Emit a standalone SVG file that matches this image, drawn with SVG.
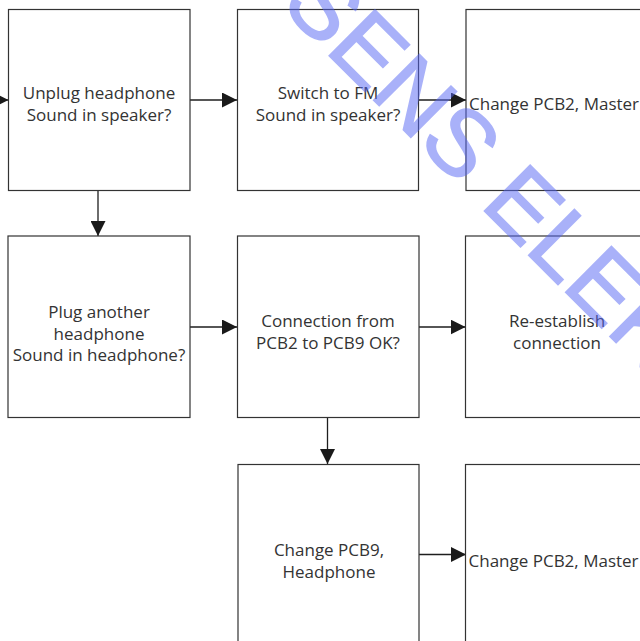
<svg xmlns="http://www.w3.org/2000/svg" width="640" height="641" viewBox="0 0 640 641">
<style>
.box{fill:none;stroke:#333;stroke-width:1.2}
.t{font-family:"Open Sans","Noto Sans",sans-serif;font-size:17px;fill:#333;text-anchor:middle}
.ts{font-family:"Open Sans","Noto Sans",sans-serif;font-size:17px;fill:#333;text-anchor:start}
.ln{stroke:#1e1e1e;stroke-width:1.3;fill:none}
.wm{font-family:"Liberation Sans",Arial,sans-serif;font-size:94px;fill:#5566f5;stroke:#5566f5;stroke-width:1.6}
</style>
<defs>
<marker id="ah" viewBox="0 0 15 15" refX="15" refY="7.5" markerWidth="15" markerHeight="15" markerUnits="userSpaceOnUse" orient="auto">
<path d="M0,0 L15,7.5 L0,15 Z" fill="#1a1a1a"/>
</marker>
</defs>
<rect width="640" height="641" fill="#fff"/>
<g id="connectors">
<line class="ln" x1="-10" y1="100" x2="8.5" y2="100" marker-end="url(#ah)"/>
<line class="ln" x1="190" y1="100" x2="237" y2="100" marker-end="url(#ah)"/>
<line class="ln" x1="418.5" y1="100" x2="466" y2="100" marker-end="url(#ah)"/>
<line class="ln" x1="98" y1="190.5" x2="98" y2="236" marker-end="url(#ah)"/>
<line class="ln" x1="190" y1="327" x2="237" y2="327" marker-end="url(#ah)"/>
<line class="ln" x1="419" y1="327" x2="465.5" y2="327" marker-end="url(#ah)"/>
<line class="ln" x1="327.5" y1="417.5" x2="327.5" y2="464" marker-end="url(#ah)"/>
<line class="ln" x1="419" y1="554.5" x2="466" y2="554.5" marker-end="url(#ah)"/>
</g>
<g id="n1"><rect class="box" x="8.5" y="9.5" width="181.5" height="181"/>
<text class="t" x="99" y="99">Unplug headphone</text><text class="t" x="99" y="120.5">Sound in speaker?</text></g>
<g id="n2"><rect class="box" x="237.5" y="9.5" width="181" height="181"/>
<text class="t" x="328" y="99">Switch to FM</text><text class="t" x="328" y="121">Sound in speaker?</text></g>
<g id="n3"><rect class="box" x="466" y="9.5" width="181" height="181"/>
<text class="ts" x="469" y="110">Change PCB2, Master</text></g>
<g id="n4"><rect class="box" x="8" y="236" width="182" height="181.5"/>
<text class="t" x="99" y="317.5">Plug another</text><text class="t" x="99" y="339.5">headphone</text><text class="t" x="99" y="361">Sound in headphone?</text></g>
<g id="n5"><rect class="box" x="237.5" y="236" width="181.5" height="181.5"/>
<text class="t" x="328" y="327">Connection from</text><text class="t" x="328" y="348.5">PCB2 to PCB9 OK?</text></g>
<g id="n6"><rect class="box" x="465.5" y="236" width="181" height="181.5"/>
<text class="t" x="557" y="327">Re-establish</text><text class="t" x="557" y="348.5">connection</text></g>
<g id="n7"><rect class="box" x="238" y="464.5" width="181" height="190"/>
<text class="t" x="329" y="556">Change PCB9,</text><text class="t" x="329" y="577.5">Headphone</text></g>
<g id="n8"><rect class="box" x="465.5" y="464.5" width="181" height="190"/>
<text class="ts" x="468.5" y="567">Change PCB2, Master</text></g>
<text class="wm" opacity="0.5" transform="translate(279.5,6) rotate(45)">SENS ELEK</text>
</svg>
